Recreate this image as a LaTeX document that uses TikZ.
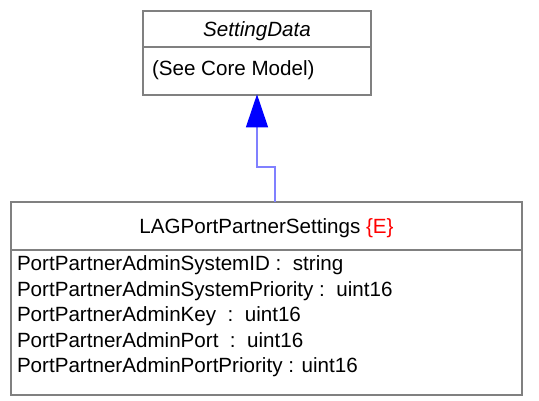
\documentclass[tikz,border=0pt]{standalone}
\usepackage{fontspec}
\setmainfont{Liberation Sans}
\usetikzlibrary{arrows.meta,calc}
\definecolor{boxgray}{RGB}{128,128,128}
\definecolor{connblue}{RGB}{128,128,255}
\begin{document}
\begin{tikzpicture}[x=1pt,y=-1pt,
  umlbox/.style={draw=boxgray,line width=1.3pt,fill=white,inner sep=0pt,outer sep=0pt},
  divider/.style={draw=boxgray,line width=1.3pt},
  txt/.style={inner sep=0pt,outer sep=0pt,font=\fontsize{20.6}{24}\selectfont},
  conn/.style={draw=connblue,line width=1.1pt},
  gen/.style={-{Triangle[length=33pt,width=22pt,color=blue,fill=blue]}}
]
\useasboundingbox[fill=white] (0,0) rectangle (539,401);
% SettingData box
\node[umlbox,minimum width=228pt,minimum height=84pt] (sd) at (257,53) {};
\draw[divider] (143,47) -- (371,47);
\node[txt,anchor=base] (sdname) at (257,37) {\itshape SettingData};
\node[txt,anchor=base west] (sdnote) at (152,76) {(See Core Model)};
% LAGPortPartnerSettings box
\node[umlbox,minimum width=511pt,minimum height=193pt] (lag) at (266.5,298.5) {};
\draw[divider] (11,250) -- (522,250);
\node[txt,anchor=base] (lagname) at (266.5,234) {LAGPortPartnerSettings \textcolor{red}{\{E\}}};
\node[txt,anchor=base west] (a1) at (17,271) {PortPartnerAdminSystemID :\ \ string};
\node[txt,anchor=base west] (a2) at (17,297) {PortPartnerAdminSystemPriority :\ \ uint16};
\node[txt,anchor=base west] (a3) at (17,322) {PortPartnerAdminKey\ \ :\ \ uint16};
\node[txt,anchor=base west] (a4) at (17,347) {PortPartnerAdminPort\ \ :\ \ uint16};
\node[txt,anchor=base west] (a5) at (17,372) {PortPartnerAdminPortPriority : uint16};
% generalization connector
\coordinate (bend) at (275,167);
\draw[conn,gen] ([xshift=8.5pt]lag.north) -- (bend) -- (257,167) -- ([yshift=0.7pt]sd.south);
\end{tikzpicture}
\end{document}
